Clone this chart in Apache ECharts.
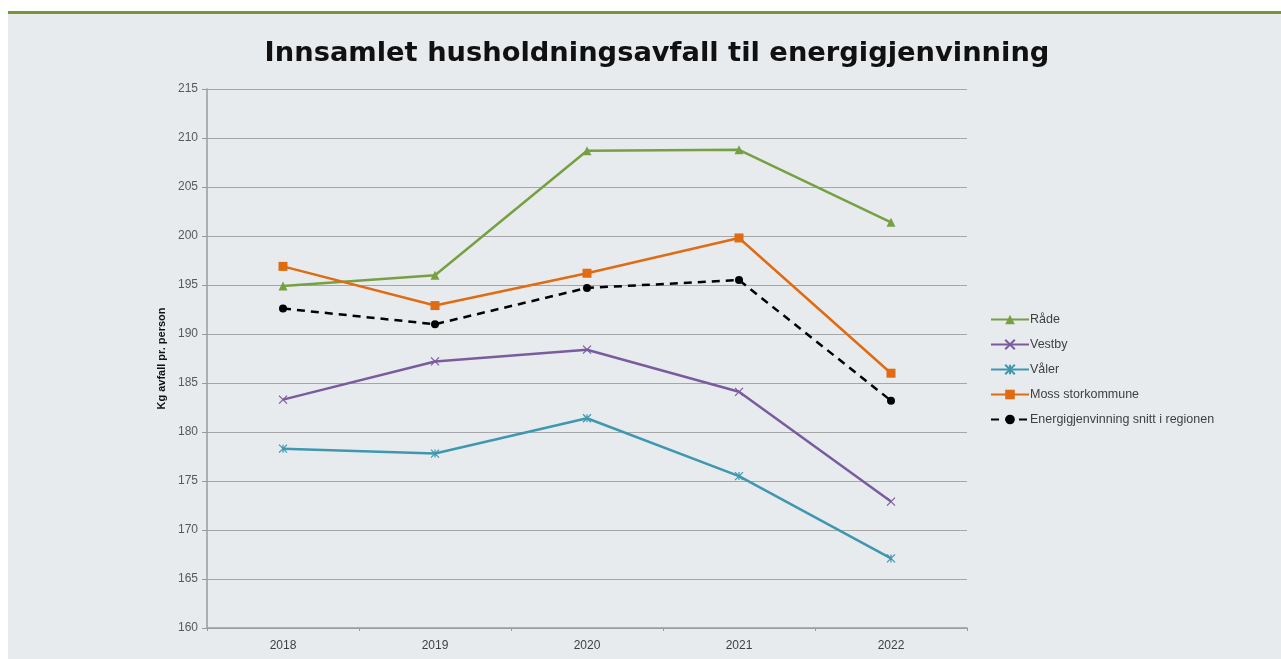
<!DOCTYPE html>
<html><head><meta charset="utf-8">
<script src="https://cdn.jsdelivr.net/npm/echarts@6/dist/echarts.min.js"></script>
<style>
html,body{margin:0;padding:0;background:#fff;}
#wrap{position:absolute;left:8px;top:11px;width:1273px;height:648px;background:#e7ebee;border-top:3px solid #7b9537;box-sizing:border-box;}
#c{position:absolute;left:0;top:0;width:1281px;height:659px;}
</style></head>
<body>
<div id="wrap"></div>
<div id="c"></div>
<script>
const years = ['2018','2019','2020','2021','2022'];
const rade = [194.9, 196.0, 208.7, 208.8, 201.4];
const vestby = [183.3, 187.2, 188.4, 184.1, 172.9];
const valer = [178.3, 177.8, 181.4, 175.5, 167.1];
const moss = [196.9, 192.9, 196.2, 199.8, 186.0];
const energi = [192.6, 191.0, 194.7, 195.5, 183.2];
const seriesNames = ['Råde','Vestby','Våler','Moss storkommune','Energigjenvinning snitt i regionen'];
const yTitle = 'Kg avfall pr. person';
const chartTitle = 'Innsamlet husholdningsavfall til energigjenvinning';

const X_PATH = 'path://M0,0L10,10M10,0L0,10';
const STAR_PATH = 'path://M0,0L10,10M10,0L0,10M5,0L5,10';

function mk(name, data, color, symbol, size, opts) {
  const s = {
    name: name, type: 'line', data: data, symbol: symbol, symbolSize: size,
    lineStyle: {color: color, width: 2.5},
    itemStyle: {color: color},
    emphasis: {disabled: true}
  };
  return Object.assign(s, opts || {});
}
const chart = echarts.init(document.getElementById('c'), null, {renderer: 'canvas'});
chart.setOption({
  backgroundColor: 'transparent',
  animation: false,
  title: {text: chartTitle, left: 652, textAlign: 'center', top: 35,
    textStyle: {fontFamily: 'DejaVu Sans', fontWeight: 'bold', fontSize: 27.3, color: '#111'}},
  grid: {left: 207, right: 314, top: 89, bottom: 31},
  legend: {
    orient: 'vertical', left: 985, top: 308, itemGap: 12, itemWidth: 38, itemHeight: 12,
    data: seriesNames,
    textStyle: {fontFamily: 'Liberation Sans', fontSize: 12.5, color: '#404040', padding: [0,0,0,-4]}
  },
  xAxis: {
    type: 'category', data: years, boundaryGap: true,
    axisLine: {lineStyle: {color: '#9a9a9a', width: 1.5}},
    axisTick: {show: true, length: 3, lineStyle: {color: '#9a9a9a'}},
    axisLabel: {fontFamily: 'Liberation Sans', fontSize: 12, color: '#404040', margin: 12}
  },
  yAxis: {
    type: 'value', min: 160, max: 215, interval: 5,
    name: yTitle, nameLocation: 'middle', nameGap: 38, nameRotate: 90,
    nameTextStyle: {fontFamily: 'Liberation Sans', fontSize: 11, fontWeight: 'bold', color: '#111'},
    axisLine: {show: true, lineStyle: {color: '#9a9a9a', width: 1.5}},
    axisTick: {show: true, length: 5, lineStyle: {color: '#9a9a9a'}},
    axisLabel: {fontFamily: 'Liberation Sans', fontSize: 12, color: '#595959', margin: 9},
    splitLine: {lineStyle: {color: '#a6a6a6', width: 1.2}}
  },
  series: [
    mk(seriesNames[0], rade, '#77a043', 'triangle', 9),
    mk(seriesNames[1], vestby, '#7a5c9e', X_PATH, 8, {itemStyle: {color: 'transparent', borderColor: '#7a5c9e', borderWidth: 1.2}}),
    mk(seriesNames[2], valer, '#3f97b0', STAR_PATH, 8, {itemStyle: {color: 'transparent', borderColor: '#3f97b0', borderWidth: 1.2}}),
    mk(seriesNames[3], moss, '#e06b12', 'rect', 9),
    mk(seriesNames[4], energi, '#000000', 'circle', 8, {lineStyle: {color: '#000', width: 2.5, type: [8, 6]}})
  ]
});
</script>
</body></html>
